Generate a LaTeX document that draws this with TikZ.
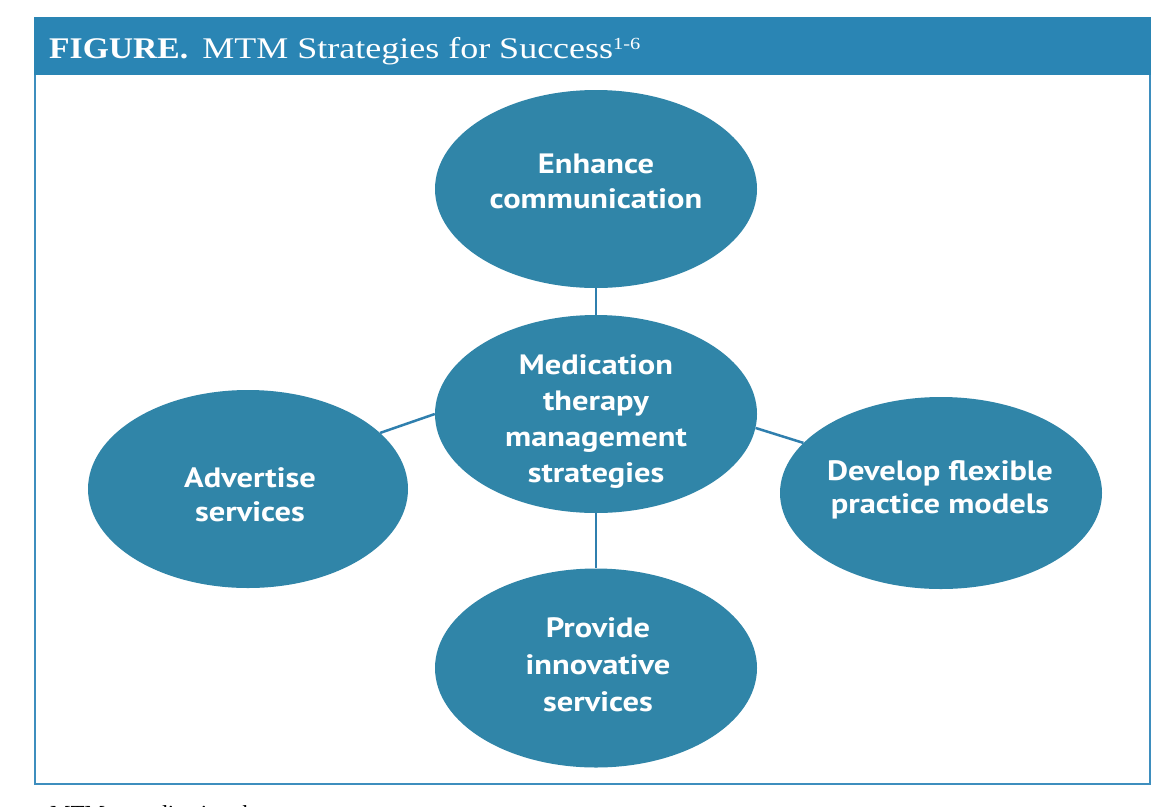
\documentclass[tikz,border=0pt]{standalone}
\usepackage{fontspec}
\usetikzlibrary{shapes.geometric}
\setmainfont{Liberation Serif}
\newfontfamily\titlereg[FakeStretch=1.2]{Liberation Serif}
\newfontfamily\titlebold[FakeStretch=1.12]{Liberation Serif Bold}
\newfontfamily\bubfont[FakeStretch=1.16]{PT Sans}
\definecolor{barblue}{RGB}{42,133,180}
\definecolor{framecol}{RGB}{62,142,190}
\definecolor{linkcol}{RGB}{47,127,174}
\definecolor{bubblecol}{RGB}{48,133,168}
\tikzset{
  bubble/.style={ellipse, fill=bubblecol, minimum width=322pt, minimum height=198pt, inner sep=0pt},
  btext/.style={text=white, font=\bubfont\bfseries\fontsize{28}{35}\selectfont, align=center, inner sep=0pt},
  link/.style={draw=linkcol, line width=2.5pt},
}
\begin{document}
\begin{tikzpicture}[x=1pt,y=-1pt]
  \useasboundingbox (0,0) rectangle (1174,806);
  \clip (0,0) rectangle (1174,806);
  \fill[white] (0,0) rectangle (1174,806);
  % frame and title bar
  \draw[framecol, line width=2pt] (35,18) rectangle (1150,784);
  \fill[barblue] (34,17) rectangle (1151,75);
  \node[anchor=base west, inner sep=0pt, text=white] (title) at (49,58)
    {{\titlebold\fontsize{30}{36}\selectfont FIGURE.}\hspace{14pt}{\titlereg\fontsize{30}{36}\selectfont MTM Strategies for Success\raisebox{9pt}{\fontsize{17}{17}\selectfont 1-6}}};
  % bubbles
  \node[bubble] (top) at (596,189) {};
  \node[bubble] (c) at (596,414) {};
  \node[bubble, minimum width=320pt] (L) at (248,489) {};
  \node[bubble, minimum height=192pt] (R) at (941,493) {};
  \node[bubble, minimum height=199pt] (B) at (596,668) {};
  % connectors
  \draw[link] (top.south) -- (c.north);
  \draw[link] (c.south) -- (B.north);
  \draw[link] (L.23) -- (c.west);
  \draw[link] (c.-5) -- (R.160);
  % texts
  \node[btext] (ttop) at (596,181.5) {Enhance\\communication};
  \node[btext, font=\bubfont\bfseries\fontsize{28}{35.7}\selectfont] (tc) at (596,421.5) {Medication\\therapy\\management\\strategies};
  \node[btext, font=\bubfont\bfseries\fontsize{28}{34}\selectfont] (tL) at (250,495) {Advertise\\services};
  \node[btext, font=\bubfont\bfseries\fontsize{28}{33}\selectfont] (tR) at (940,489.5) {Develop flexible\\practice models};
  \node[btext, font=\bubfont\bfseries\fontsize{28}{37}\selectfont] (tB) at (598,665) {Provide\\innovative\\services};
  % cut-off note below the frame
  \node[anchor=base west, inner sep=0pt, font=\fontsize{23}{28}\selectfont] (note) at (50,821) {MTM—medication therapy management};
\end{tikzpicture}
\end{document}
